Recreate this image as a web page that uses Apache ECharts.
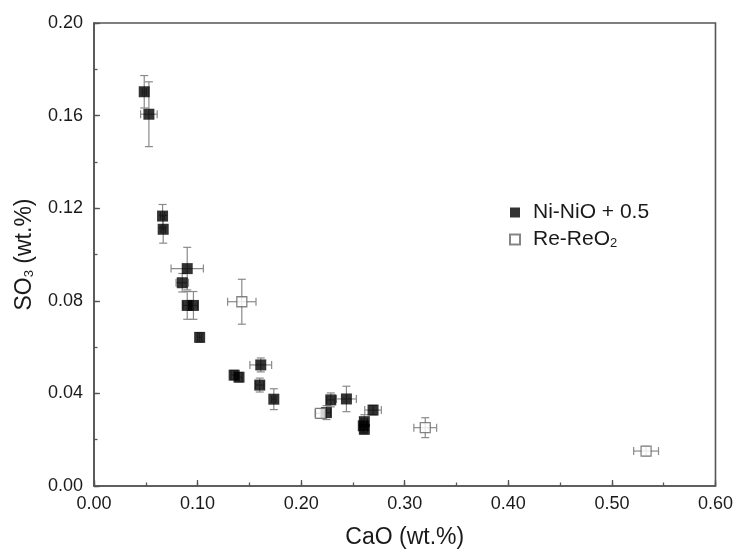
<!DOCTYPE html>
<html>
<head>
<meta charset="utf-8">
<script src="https://cdn.jsdelivr.net/npm/echarts@6/dist/echarts.min.js"></script>
<style>
  html, body { margin: 0; padding: 0; background: #fff; }
  #chart { width: 736px; height: 554px; }
</style>
</head>
<body>
<div id="chart"></div>
<script>
// CaO vs SO3 measurements with 1-sigma uncertainties
const niCaO    = [0.0485, 0.053, 0.0662, 0.0668, 0.090, 0.0852, 0.090, 0.096, 0.102, 0.1353, 0.140, 0.161, 0.160, 0.1736, 0.2244, 0.2286, 0.2437, 0.2694, 0.261, 0.260, 0.261];
const niSO3    = [0.1703, 0.1606, 0.1166, 0.1109, 0.0939, 0.0878, 0.078, 0.078, 0.0642, 0.0479, 0.047, 0.0523, 0.0436, 0.0375, 0.0317, 0.0372, 0.0376, 0.0328, 0.0278, 0.026, 0.0245];
const niCaOErr = [0.002, 0.008, 0.002, 0.002, 0.0156, 0.006, 0.004, 0.004, 0.002, 0.003, 0.003, 0.0105, 0.004, 0.002, 0.004, 0.004, 0.0096, 0.008, 0.003, 0.003, 0.003];
const niSO3Err = [0.007, 0.014, 0.005, 0.006, 0.0092, 0.004, 0.006, 0.006, 0.002, 0.002, 0.002, 0.003, 0.003, 0.0045, 0.003, 0.003, 0.0055, 0.002, 0.003, 0.003, 0.002];

const reCaO    = [0.1427, 0.2186, 0.3198, 0.533];
const reSO3    = [0.0796, 0.0314, 0.0252, 0.0151];
const reCaOErr = [0.0137, 0.005, 0.011, 0.012];
const reSO3Err = [0.0097, 0.002, 0.0043, 0.002];

const xTicks = [0, 0.1, 0.2, 0.3, 0.4, 0.5, 0.6];
const yTicks = [0, 0.04, 0.08, 0.12, 0.16, 0.2];

const FONT = 'Liberation Sans';
const AXIS_COLOR = '#555';
const BAR_COLOR = '#8a8a8a';
const TEXT_COLOR = '#1a1a1a';

function points(xs, ys) {
  return xs.map((x, i) => [x, ys[i]]);
}
function errRows(xs, ys, xe, ye) {
  return xs.map((x, i) => [x, ys[i], xe[i], ye[i]]);
}

// cross-shaped error bars with end caps, placed through the axis scales
function renderErr(params, api) {
  const x = api.value(0), y = api.value(1), dx = api.value(2), dy = api.value(3);
  const c = api.coord([x, y]);
  const l = api.coord([x - dx, y])[0], r = api.coord([x + dx, y])[0];
  const t = api.coord([x, y + dy])[1], b = api.coord([x, y - dy])[1];
  const cap = 4;
  const style = { stroke: BAR_COLOR, lineWidth: 1.2, fill: null };
  const lines = [
    [l, c[1], r, c[1]], [l, c[1] - cap, l, c[1] + cap], [r, c[1] - cap, r, c[1] + cap],
    [c[0], t, c[0], b], [c[0] - cap, t, c[0] + cap, t], [c[0] - cap, b, c[0] + cap, b]
  ];
  return {
    type: 'group',
    children: lines.map(p => ({
      type: 'line', shape: { x1: p[0], y1: p[1], x2: p[2], y2: p[3] }, style: style
    }))
  };
}

const subStyle = { fontFamily: FONT, fontSize: 13, color: TEXT_COLOR, verticalAlign: 'bottom', padding: [8, 0, 0, 0] };

const mainAxis = {
  axisLine: { show: true, lineStyle: { color: AXIS_COLOR, width: 1.6 } },
  axisTick: { show: true, inside: true, length: 6, lineStyle: { color: AXIS_COLOR, width: 1.3 } },
  splitLine: { show: false },
  axisLabel: { color: TEXT_COLOR, fontFamily: FONT, fontSize: 18, formatter: v => v.toFixed(2) }
};

// secondary axes that only carry the short in-between ticks
const minorAxis = {
  axisLine: { show: false },
  axisTick: { show: true, inside: true, length: 3.5, lineStyle: { color: AXIS_COLOR, width: 1.3 } },
  axisLabel: { show: false },
  splitLine: { show: false }
};

const chart = echarts.init(document.getElementById('chart'), null, { renderer: 'canvas' });
chart.setOption({
  backgroundColor: '#fff',
  animation: false,
  grid: {
    left: 94, right: 20, top: 23, bottom: 68,
    show: true, borderColor: AXIS_COLOR, borderWidth: 1.6, backgroundColor: 'transparent'
  },
  legend: {
    left: 504, top: 197, orient: 'vertical',
    itemWidth: 10, itemHeight: 10, itemGap: 6,
    textStyle: {
      fontFamily: FONT, fontSize: 21, color: TEXT_COLOR, padding: [0, 0, 0, 8],
      rich: { sub: subStyle }
    },
    formatter: name => name === 'Re-ReO2' ? 'Re-ReO{sub|2}' : name,
    data: [
      { name: 'Ni-NiO + 0.5', icon: 'rect' },
      { name: 'Re-ReO2', icon: 'rect' }
    ]
  },
  xAxis: [
    Object.assign({}, mainAxis, {
      type: 'value', min: xTicks[0], max: xTicks[xTicks.length - 1], interval: 0.1,
      name: 'CaO (wt.%)', nameLocation: 'middle', nameGap: 40,
      nameTextStyle: { fontFamily: FONT, fontSize: 23, color: TEXT_COLOR },
      axisLabel: Object.assign({}, mainAxis.axisLabel, { margin: 9 })
    }),
    Object.assign({}, minorAxis, {
      type: 'value', position: 'bottom', min: xTicks[0], max: xTicks[xTicks.length - 1], interval: 0.05
    })
  ],
  yAxis: [
    Object.assign({}, mainAxis, {
      type: 'value', min: yTicks[0], max: yTicks[yTicks.length - 1], interval: 0.04,
      name: 'SO{sub|3} (wt.%)', nameLocation: 'middle', nameGap: 58,
      nameTextStyle: { fontFamily: FONT, fontSize: 23, color: TEXT_COLOR, rich: { sub: subStyle } },
      axisLabel: Object.assign({}, mainAxis.axisLabel, { margin: 11 })
    }),
    Object.assign({}, minorAxis, {
      type: 'value', position: 'left', min: yTicks[0], max: yTicks[yTicks.length - 1], interval: 0.02
    })
  ],
  series: [
    {
      type: 'custom', name: 'niErr', renderItem: renderErr, z: 1,
      data: errRows(niCaO, niSO3, niCaOErr, niSO3Err), encode: { x: 0, y: 1 }, silent: true
    },
    {
      type: 'custom', name: 'reErr', renderItem: renderErr, z: 1,
      data: errRows(reCaO, reSO3, reCaOErr, reSO3Err), encode: { x: 0, y: 1 }, silent: true
    },
    {
      type: 'scatter', name: 'Ni-NiO + 0.5', symbol: 'rect', symbolSize: 11, z: 3,
      itemStyle: { color: '#000', borderWidth: 0 },
      data: points(niCaO, niSO3)
    },
    {
      type: 'scatter', name: 'Re-ReO2', symbol: 'rect', symbolSize: 10, z: 4,
      itemStyle: { color: '#fff', borderColor: '#666', borderWidth: 1.3 },
      data: points(reCaO, reSO3)
    }
  ]
});
</script>
</body>
</html>
